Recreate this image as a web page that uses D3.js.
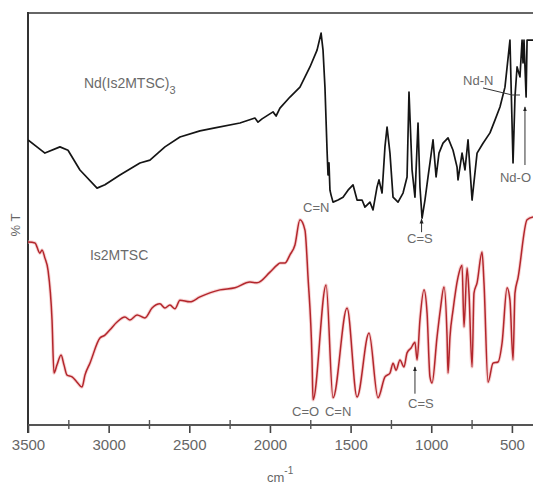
<!DOCTYPE html>
<html>
<head>
<meta charset="utf-8">
<script src="https://cdn.jsdelivr.net/npm/d3@7"></script>
<style>
  html, body { margin: 0; padding: 0; background: #fff; }
  svg { display: block; font-family: "Liberation Sans", Arial, sans-serif; }
</style>
</head>
<body>
<svg id="chart" width="533" height="487"></svg>
<script>
// ---- data (wavenumber in cm-1, transmittance in arbitrary % T units) ----
const ndWavenumber = [3500,3395,3302,3252,3178,3072,3023,2930,2806,2744,2651,2558,2434,2341,2186,2093,2074,2049,1981,1962,1938,1876,1814,1752,1708,1683,1671,1659,1646,1640,1634,1628,1621,1609,1578,1547,1516,1485,1460,1429,1411,1380,1361,1336,1324,1305,1287,1274,1256,1237,1206,1175,1150,1138,1119,1101,1082,1070,1057,1039,1020,1008,989,970,952,927,896,865,840,834,809,791,772,747,716,679,636,605,574,543,512,493,481,468,450,437,431,425,412,406,388,369];
const ndTransmittance = [69.2,66.0,67.5,66.7,61.9,57.5,58.3,60.7,63.6,64.3,67.5,69.9,71.4,72.1,73.3,74.5,73.5,74.3,76.0,75.0,76.9,79.6,82.0,86.9,91.0,95.1,91.0,82.0,66.7,60.7,63.6,57.0,55.8,54.1,54.6,55.3,57.0,58.3,54.6,54.6,52.9,54.1,52.2,57.8,59.5,56.3,67.5,72.3,66.0,55.3,54.1,56.3,60.2,80.8,61.9,55.3,73.3,57.8,50.2,54.6,60.2,63.6,69.2,60.2,66.0,68.4,69.7,66.7,62.6,59.5,66.0,61.9,69.2,54.6,66.0,68.4,70.9,74.0,77.2,82.0,93.4,63.6,79.6,86.9,84.5,93.4,87.9,93.4,79.6,93.4,93.4,93.4];

const isWavenumber = [3500,3457,3426,3413,3395,3376,3351,3339,3320,3295,3277,3258,3227,3196,3165,3147,3116,3054,3023,2992,2948,2899,2868,2824,2775,2731,2682,2651,2620,2589,2558,2496,2434,2310,2217,2124,2080,2000,1956,1938,1907,1876,1845,1814,1783,1764,1739,1733,1652,1609,1522,1460,1386,1330,1287,1256,1237,1218,1194,1169,1150,1125,1101,1088,1070,1045,1026,1008,995,964,944,921,902,896,884,865,834,809,797,778,766,747,735,716,685,673,648,617,586,561,530,512,493,481,462,406,369];
const isTransmittance = [44.4,44.2,41.7,42.5,40.5,37.6,25.5,12.6,14.6,17.0,14.6,12.1,11.7,10.4,9.2,12.1,15.0,21.1,21.8,23.1,25.0,26.2,25.5,26.7,26.0,28.4,29.4,28.4,29.1,28.2,30.3,29.9,31.1,32.8,33.3,34.7,34.5,37.1,38.8,39.3,39.3,41.3,43.7,49.8,47.3,35.9,15.8,6.1,34.0,6.6,28.4,6.8,22.3,6.6,11.7,12.6,15.0,13.3,15.8,14.1,17.5,18.7,20.1,15.8,25.5,32.8,27.2,11.7,10.2,21.4,27.9,33.5,21.4,12.6,21.4,27.9,35.9,38.8,23.8,38.1,32.0,14.1,32.0,34.5,42.0,34.5,10.4,15.0,15.3,19.9,33.3,30.3,15.8,32.0,35.7,49.8,50.5];

const majorTicks = [3500,3000,2500,2000,1500,1000,500];
const minorTicks = [3250,2750,2250,1750,1250,750];

// annotation texts, anchored in data coordinates
const seriesLabels = [
  {text: "Nd(Is2MTSC)", sub: "3", wn: 3153, t: 81.8},
  {text: "Is2MTSC", sub: "", wn: 3116, t: 40.0}
];
const bandLabels = [
  {text: "C=N", wn: 1795, t: 51.7},
  {text: "C=S", wn: 1150, t: 44.2},
  {text: "Nd-N", wn: 803, t: 82.5},
  {text: "Nd-O", wn: 574, t: 59.0},
  {text: "C=O", wn: 1863, t: 2.2},
  {text: "C=N", wn: 1659, t: 2.2},
  {text: "C=S", wn: 1144, t: 4.1}
];
// pointer lines in data coordinates; arrow = arrowhead at end
const pointers = [
  {pts: [[1060, 46.8], [1060, 50.0]], arrow: true},
  {pts: [[679, 81.8], [499, 80.1], [450, 80.1]], arrow: false},
  {pts: [[419, 63.1], [419, 77.2]], arrow: true},
  {pts: [[1101, 7.6], [1101, 14.1]], arrow: true}
];

// ---- layout ----
const svg = d3.select("#chart");
const mLeft = 28, mRight = 534, mTop = 13, mBottom = 425;

const x = d3.scaleLinear().domain([3500, 363]).range([mLeft, mRight]);
const y = d3.scaleLinear().domain([0, 100]).range([mBottom, mTop]);

const defs = svg.append("defs");
defs.append("marker")
  .attr("id", "arrowhead")
  .attr("viewBox", "0 0 10 10")
  .attr("refX", 9).attr("refY", 5)
  .attr("markerWidth", 5).attr("markerHeight", 6)
  .attr("orient", "auto")
  .append("path").attr("d", "M0,1 L10,5 L0,9 Z").attr("fill", "#222");

// frame: top border and left axis
svg.append("line").attr("x1", mLeft).attr("x2", mRight).attr("y1", mTop).attr("y2", mTop)
  .attr("stroke", "#666").attr("stroke-width", 2);
svg.append("line").attr("x1", mLeft).attr("x2", mLeft).attr("y1", mTop - 1).attr("y2", mBottom + 8)
  .attr("stroke", "#333").attr("stroke-width", 2);

// bottom axis
const gx = svg.append("g").attr("transform", `translate(0,${mBottom})`)
  .call(d3.axisBottom(x).tickValues(majorTicks).tickSizeInner(8).tickSizeOuter(0)
    .tickPadding(6).tickFormat(d3.format("d")));
gx.select(".domain").remove();
gx.selectAll(".tick line").attr("stroke", "#444").attr("stroke-width", 1.6);
gx.selectAll(".tick text").attr("font-size", 15).attr("fill", "#666")
  .attr("font-family", "Liberation Sans, Arial, sans-serif");

const gm = svg.append("g").attr("transform", `translate(0,${mBottom - 5})`)
  .call(d3.axisBottom(x).tickValues(minorTicks).tickSizeInner(9).tickSizeOuter(0).tickFormat(""));
gm.select(".domain").remove();
gm.selectAll(".tick line").attr("stroke", "#555").attr("stroke-width", 1.4);

svg.append("line").attr("x1", mLeft).attr("x2", mRight).attr("y1", mBottom).attr("y2", mBottom)
  .attr("stroke", "#555").attr("stroke-width", 2);

// axis titles
const xt = svg.append("text").attr("x", (mLeft + mRight) / 2 - 14).attr("y", 482)
  .attr("font-size", 13).attr("fill", "#666").text("cm");
xt.append("tspan").attr("dy", -8).attr("font-size", 10).text("-1");

svg.append("text")
  .attr("transform", `translate(20,${(mTop + mBottom) / 2 + 6}) rotate(-90)`)
  .attr("text-anchor", "middle").attr("font-size", 13).attr("fill", "#666").text("% T");

// spectra
const line = d3.line().x(d => x(d[0])).y(d => y(d[1]));
const smoothLine = d3.line().x(d => x(d[0])).y(d => y(d[1])).curve(d3.curveMonotoneX);
const ndData = ndWavenumber.map((w, i) => [w, ndTransmittance[i]]);
const isData = isWavenumber.map((w, i) => [w, isTransmittance[i]]);

const clip = defs.append("clipPath").attr("id", "plotclip");
clip.append("rect").attr("x", mLeft).attr("y", mTop).attr("width", mRight - mLeft).attr("height", mBottom - mTop);

const plot = svg.append("g").attr("clip-path", "url(#plotclip)");
plot.append("path").datum(isData).attr("d", smoothLine)
  .attr("fill", "none").attr("stroke", "#f2b8b8").attr("stroke-width", 3.4)
  .attr("stroke-linejoin", "round").attr("opacity", 0.6);
plot.append("path").datum(isData).attr("d", smoothLine)
  .attr("fill", "none").attr("stroke", "#b3262c").attr("stroke-width", 1.5)
  .attr("stroke-linejoin", "round");
plot.append("path").datum(ndData).attr("d", line)
  .attr("fill", "none").attr("stroke", "#151515").attr("stroke-width", 1.7)
  .attr("stroke-linejoin", "round");

// pointers
pointers.forEach(p => {
  const pl = svg.append("path").datum(p.pts).attr("d", line)
    .attr("fill", "none").attr("stroke", "#333").attr("stroke-width", 1);
  if (p.arrow) pl.attr("marker-end", "url(#arrowhead)");
});

// labels
seriesLabels.forEach(l => {
  const t = svg.append("text").attr("x", x(l.wn)).attr("y", y(l.t))
    .attr("font-size", 14).attr("fill", "#6a6a6a").text(l.text);
  if (l.sub) t.append("tspan").attr("dy", 6).attr("font-size", 11).text(l.sub);
});
bandLabels.forEach(l => {
  svg.append("text").attr("x", x(l.wn)).attr("y", y(l.t))
    .attr("font-size", 13).attr("fill", "#6a6a6a").text(l.text);
});
</script>
</body>
</html>
